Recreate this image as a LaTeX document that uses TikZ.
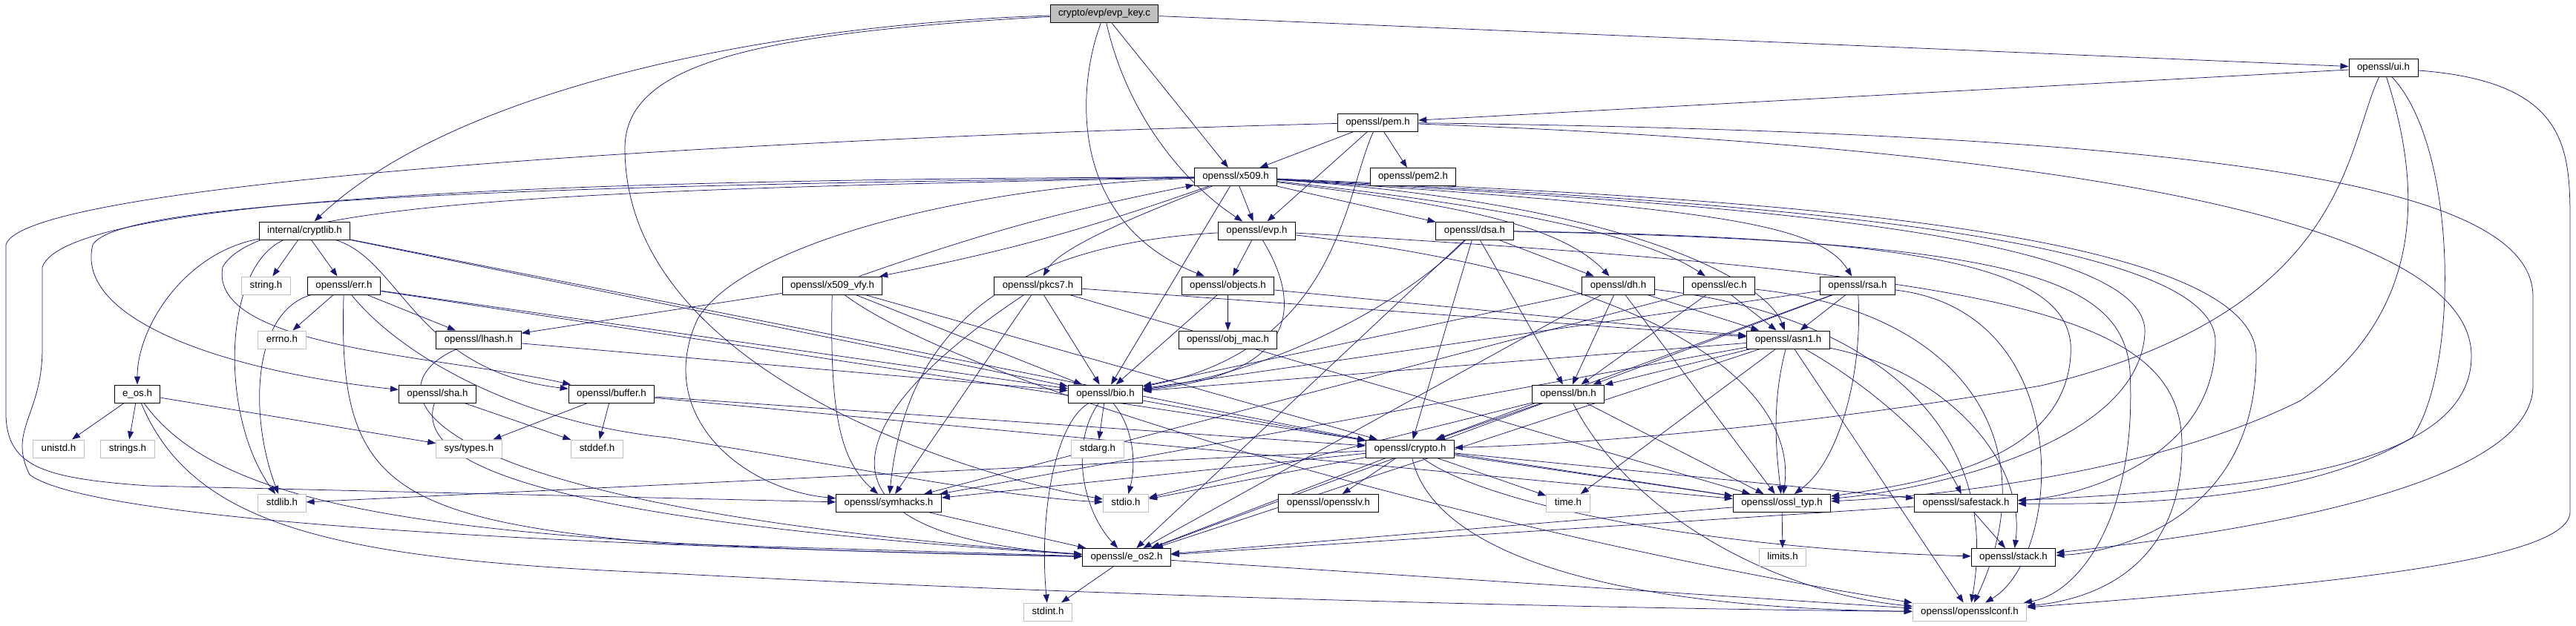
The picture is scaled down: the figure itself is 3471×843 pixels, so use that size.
\documentclass[tikz,border=0pt]{standalone}
\usepackage{fontspec}
\setmainfont{Liberation Sans}
\usetikzlibrary{arrows.meta}
\definecolor{mblue}{RGB}{25,25,112}
\definecolor{extgray}{RGB}{191,191,191}
\newcommand{\fs}{\fontsize{13.3}{15}\selectfont}
\pgfdeclarelayer{bg}
\pgfsetlayers{bg,main}
\tikzset{
  nd/.style={draw=black, line width=1pt, fill=white, inner xsep=11pt, inner ysep=0pt, minimum height=24pt, text height=9.6pt, text depth=2.7pt, font=\fs},
  ext/.style={nd, draw=extgray},
  rootnd/.style={nd, fill=extgray},
  e/.style={draw=mblue, line width=0.75pt, -{Triangle[length=11pt,width=8pt]}, mblue}
}
\begin{document}
\begin{tikzpicture}[x=1pt,y=-1pt]
\useasboundingbox (0,0) rectangle (3471,843);
% nodes
\node[rootnd] (root) at (1488,18.5) {crypto/evp/evp\_key.c};
\node[nd] (ui) at (3211.5,91.5) {openssl/ui.h};
\node[nd] (pem) at (1856.5,165) {openssl/pem.h};
\node[nd] (x509) at (1665,238.5) {openssl/x509.h};
\node[nd] (pem2) at (1904,238.5) {openssl/pem2.h};
\node[nd] (cryptlib) at (410.5,311) {internal/cryptlib.h};
\node[nd] (evp) at (1693.5,311) {openssl/evp.h};
\node[nd] (dsa) at (1987,311) {openssl/dsa.h};
\node[ext] (string) at (358.5,385) {string.h};
\node[nd] (err) at (463.5,385) {openssl/err.h};
\node[nd] (vfy) at (1121.5,385) {openssl/x509\_vfy.h};
\node[nd] (pkcs7) at (1398.5,385) {openssl/pkcs7.h};
\node[nd] (objects) at (1654.5,385) {openssl/objects.h};
\node[nd] (dh) at (2180.5,385) {openssl/dh.h};
\node[nd] (ec) at (2316.5,385) {openssl/ec.h};
\node[nd] (rsa) at (2503,385) {openssl/rsa.h};
\node[ext] (errno) at (380,458) {errno.h};
\node[nd] (lhash) at (645,458) {openssl/lhash.h};
\node[nd] (objmac) at (1654.5,458) {openssl/obj\_mac.h};
\node[nd] (asn1) at (2409.5,458) {openssl/asn1.h};
\node[nd] (eos) at (185,531) {e\_os.h};
\node[nd] (sha) at (589.5,531) {openssl/sha.h};
\node[nd] (buffer) at (824,531) {openssl/buffer.h};
\node[nd] (bio) at (1489.5,531) {openssl/bio.h};
\node[nd] (bn) at (2113,531) {openssl/bn.h};
\node[ext] (unistd) at (79,605) {unistd.h};
\node[ext] (strings) at (172,605) {strings.h};
\node[ext] (systypes) at (632,605) {sys/types.h};
\node[ext] (stddef) at (804.5,605) {stddef.h};
\node[ext] (stdarg) at (1479,605) {stdarg.h};
\node[nd] (crypto) at (1900,605) {openssl/crypto.h};
\node[ext] (stdlib) at (380,678.5) {stdlib.h};
\node[nd] (symhacks) at (1197.5,678.5) {openssl/symhacks.h};
\node[ext] (stdio) at (1517,678.5) {stdio.h};
\node[nd] (opensslv) at (1790,678.5) {openssl/opensslv.h};
\node[ext] (time) at (2113,678.5) {time.h};
\node[nd] (ossltyp) at (2401,678.5) {openssl/ossl\_typ.h};
\node[nd] (safestack) at (2649,678.5) {openssl/safestack.h};
\node[nd] (eos2) at (1518,751.5) {openssl/e\_os2.h};
\node[ext] (limits) at (2402,751.5) {limits.h};
\node[nd] (stack) at (2713,751.5) {openssl/stack.h};
\node[ext] (stdint) at (1412,825) {stdint.h};
\node[ext] (conf) at (2654,825) {openssl/opensslconf.h};
\begin{pgfonlayer}{bg}
% root
\draw[e] (root) -- (x509);
\draw[e] (root) .. controls (1520,160) and (1600,250) .. (evp);
\draw[e] (root) .. controls (1450,120) and (1440,300) .. (objects);
\draw[e] (root) -- (ui);
\draw[e] (root) .. controls (1000,35) and (600,130) .. (cryptlib);
\draw[e] (root) .. controls (1000,45) and (842,90) .. (842,200) .. controls (842,500) and (1300,640) .. (stdio);
% cryptlib
\draw[e] (cryptlib) -- (string);
\draw[e] (cryptlib) -- (err);
\draw[e] (cryptlib) .. controls (250,340) and (185,440) .. (eos);
\draw[e] (cryptlib) .. controls (300,360) and (295,560) .. (stdlib);
\draw[e] (cryptlib) .. controls (540,350) and (560,500) .. (buffer);
\draw[e] (cryptlib) -- (bio);
\draw[e] (cryptlib) -- (crypto);
% err
\draw[e] (err) .. controls (340,420) and (335,560) .. (stdlib);
\draw[e] (err) -- (errno);
\draw[e] (err) .. controls (455,650) and (520,700) .. (900,733) -- (eos2);
\draw[e] (err) .. controls (540,480) and (700,570) .. (900,590) .. controls (1150,630) and (1350,670) .. (stdio);
\draw[e] (err) -- (lhash);
\draw[e] (err) -- (bio);
\draw[e] (err) -- (ossltyp);
% e_os
\draw[e] (eos) -- (unistd);
\draw[e] (eos) -- (strings);
\draw[e] (eos) -- (systypes);
\draw[e] (eos) .. controls (300,690) and (600,735) .. (eos2);
\draw[e] (eos) .. controls (260,710) and (450,755) .. (900,773) .. controls (1600,810) and (2300,822) .. (conf);
% x509
\draw[e] (x509) -- (evp);
\draw[e] (x509) to[bend left=4] (vfy);
\draw[e] (x509) .. controls (1560,280) and (1430,330) .. (pkcs7);
\draw[e] (x509) -- (bio);
\draw[e] (x509) -- (dsa);
\draw[e] (x509) .. controls (1950,275) and (2100,300) .. (dh);
\draw[e] (x509) .. controls (2050,280) and (2220,320) .. (ec);
\draw[e] (x509) .. controls (2300,280) and (2450,300) .. (rsa);
\draw[e] (x509) .. controls (2200,275) and (2380,380) .. (asn1);
\draw[e] (x509) .. controls (2200,270) and (2900,300) .. (2890,450) .. controls (2880,600) and (2600,660) .. (ossltyp);
\draw[e] (x509) .. controls (2200,266) and (2985,300) .. (2985,460) .. controls (2985,620) and (2800,670) .. (safestack);
\draw[e] (x509) .. controls (2200,262) and (3040,290) .. (3040,480) .. controls (3040,700) and (2850,745) .. (stack);
\draw[e] (x509) .. controls (700,242) and (90,270) .. (57,360) -- (57,470) .. controls (57,560) and (10,580) .. (40,640) .. controls (120,700) and (700,735) .. (eos2);
\draw[e] (x509) .. controls (700,250) and (160,270) .. (125,330) .. controls (100,430) and (300,500) .. (sha);
\draw[e] (x509) .. controls (800,255) and (350,270) .. (300,360) .. controls (280,470) and (600,480) .. (buffer);
\draw[e] (x509) .. controls (1300,250) and (1000,330) .. (940,430) .. controls (880,560) and (1000,660) .. (symhacks);
% x509_vfy
\draw[e] (vfy) to[bend left=4] (x509);
\draw[e] (vfy) -- (lhash);
\draw[e] (vfy) -- (bio);
\draw[e] (vfy) -- (crypto);
\draw[e] (vfy) .. controls (1118,550) and (1130,620) .. (symhacks);
\draw[e] (vfy) .. controls (1300,520) and (2000,720) .. (conf);
% pkcs7
\draw[e] (pkcs7) -- (asn1);
\draw[e] (pkcs7) -- (bio);
\draw[e] (pkcs7) .. controls (1150,550) and (1050,720) .. (eos2);
\draw[e] (pkcs7) -- (symhacks);
\draw[e] (pkcs7) -- (ossltyp);
% objects
\draw[e] (objects) -- (objmac);
\draw[e] (objects) -- (bio);
\draw[e] (objects) -- (asn1);
% evp
\draw[e] (evp) -- (objects);
\draw[e] (evp) .. controls (1760,420) and (1740,505) .. (bio);
\draw[e] (evp) .. controls (1350,330) and (1220,450) .. (symhacks);
\draw[e] (evp) .. controls (2300,380) and (2420,550) .. (ossltyp);
\draw[e] (evp) .. controls (2700,370) and (2940,420) .. (2940,600) .. controls (2940,780) and (2800,810) .. (conf);
% ui
\draw[e] (ui) -- (pem);
\draw[e] (ui) .. controls (3160,200) and (3165,420) .. (2750,520) .. controls (2400,580) and (2100,600) .. (crypto);
\draw[e] (ui) .. controls (3263,250) and (3270,420) .. (3100,540) .. controls (2900,640) and (2600,670) .. (ossltyp);
\draw[e] (ui) .. controls (3313,200) and (3313,500) .. (3250,590) .. controls (3100,680) and (2850,680) .. (safestack);
\draw[e] (ui) .. controls (3460,110) and (3463,200) .. (3463,300) -- (3463,690) .. controls (3463,760) and (3100,790) .. (conf);
% pem
\draw[e] (pem) -- (x509);
\draw[e] (pem) -- (evp);
\draw[e] (pem) -- (pem2);
\draw[e] (pem) .. controls (1812,260) and (1805,470) .. (bio);
\draw[e] (pem) .. controls (900,190) and (30,250) .. (8,330) -- (8,560) .. controls (10,630) and (60,645) .. (200,655) -- (symhacks);
\draw[e] (pem) .. controls (2800,200) and (3330,300) .. (3330,480) .. controls (3330,640) and (3000,660) .. (safestack);
\draw[e] (pem) .. controls (3000,180) and (3413,250) .. (3413,400) -- (3413,520) .. controls (3413,660) and (3000,720) .. (stack);
% bio
\draw[e] (bio) -- (stdarg);
\draw[e] (bio) .. controls (1530,580) and (1530,630) .. (stdio);
\draw[e] (bio) .. controls (1440,600) and (1460,690) .. (eos2);
\draw[e] (bio) .. controls (1420,570) and (1400,700) .. (stdint);
\draw[e] (bio) -- (crypto);
% crypto
\draw[e] (crypto) -- (opensslv);
\draw[e] (crypto) -- (time);
\draw[e] (crypto) -- (ossltyp);
\draw[e] (crypto) -- (safestack);
\draw[e] (crypto) .. controls (1930,740) and (2150,820) .. (conf);
\draw[e] (crypto) .. controls (2000,680) and (2300,740) .. (stack);
\draw[e] (crypto) -- (stdlib);
\draw[e] (crypto) -- (stdio);
\draw[e] (crypto) -- (eos2);
\draw[e] (crypto) -- (symhacks);
% asn1
\draw[e] (asn1) -- (bn);
\draw[e] (asn1) -- (time);
\draw[e] (asn1) .. controls (2385,550) and (2395,620) .. (ossltyp);
\draw[e] (asn1) .. controls (2520,520) and (2610,600) .. (safestack);
\draw[e] (asn1) .. controls (2620,500) and (2730,620) .. (stack);
\draw[e] (asn1) -- (conf);
\draw[e] (asn1) -- (eos2);
\draw[e] (asn1) -- (bio);
\draw[e] (asn1) -- (symhacks);
% bn
\draw[e] (bn) -- (crypto);
\draw[e] (bn) -- (stdio);
\draw[e] (bn) -- (eos2);
\draw[e] (bn) .. controls (2200,700) and (2400,800) .. (conf);
\draw[e] (bn) -- (ossltyp);
% dsa
\draw[e] (dsa) -- (dh);
\draw[e] (dsa) .. controls (1880,420) and (1700,505) .. (bio);
\draw[e] (dsa) -- (eos2);
\draw[e] (dsa) -- (crypto);
\draw[e] (dsa) -- (bn);
\draw[e] (dsa) .. controls (2600,320) and (2800,360) .. (2790,480) .. controls (2780,620) and (2600,650) .. (ossltyp);
\draw[e] (dsa) .. controls (2700,325) and (2860,370) .. (2870,500) .. controls (2880,700) and (2800,800) .. (conf);
% dh
\draw[e] (dh) -- (bio);
\draw[e] (dh) -- (eos2);
\draw[e] (dh) -- (bn);
\draw[e] (dh) -- (asn1);
\draw[e] (dh) -- (ossltyp);
\draw[e] (dh) .. controls (2500,420) and (2700,560) .. (conf);
% ec
\draw[e] (ec) -- (symhacks);
\draw[e] (ec) -- (bn);
\draw[e] (ec) -- (asn1);
\draw[e] (ec) .. controls (2650,420) and (2760,600) .. (conf);
% rsa
\draw[e] (rsa) -- (bio);
\draw[e] (rsa) -- (asn1);
\draw[e] (rsa) -- (bn);
\draw[e] (rsa) -- (crypto);
\draw[e] (rsa) .. controls (2510,500) and (2480,620) .. (ossltyp);
\draw[e] (rsa) .. controls (2800,420) and (2780,750) .. (conf);
% buffer
\draw[e] (buffer) -- (systypes);
\draw[e] (buffer) -- (stddef);
\draw[e] (buffer) -- (crypto);
\draw[e] (buffer) -- (ossltyp);
% small ones
\draw[e] (sha) .. controls (560,620) and (700,700) .. (eos2);
\draw[e] (sha) -- (stddef);
\draw[e] (lhash) .. controls (500,520) and (520,680) .. (eos2);
\draw[e] (lhash) -- (bio);
\draw[e] (safestack) -- (stack);
\draw[e] (safestack) -- (eos2);
\draw[e] (symhacks) -- (eos2);
\draw[e] (ossltyp) -- (limits);
\draw[e] (ossltyp) -- (eos2);
\draw[e] (eos2) -- (stdint);
\draw[e] (eos2) -- (conf);
\end{pgfonlayer}
\end{tikzpicture}
\end{document}
